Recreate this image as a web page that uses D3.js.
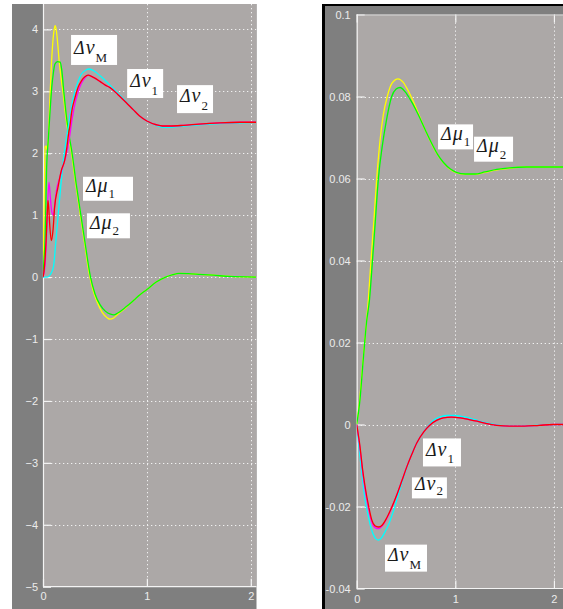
<!DOCTYPE html>
<html><head><meta charset="utf-8">
<script src="https://cdn.jsdelivr.net/npm/d3@7"></script>
<style>html,body{margin:0;padding:0;background:#fff;}svg{display:block;}</style>
</head><body>
<script>
// ---------- DATA ----------
const xTicks = [0, 1, 2];
const leftYTicks = [4, 3, 2, 1, 0, -1, -2, -3, -4, -5];
const rightYTicks = [0.1, 0.08, 0.06, 0.04, 0.02, 0, -0.02, -0.04];
const rightYTickLabels = ["0.1", "0.08", "0.06", "0.04", "0.02", "0", "-0.02", "-0.04"];

// Left chart  [t, value]
const leftMu1 = [[0,0],[0.006,0.7],[0.014,1.5],[0.02,2.1],[0.03,2.12],[0.04,2.05],[0.05,2.2],[0.065,2.8],[0.08,3.4],[0.095,3.8],[0.108,4.0],[0.117,4.06],[0.127,4.0],[0.14,3.8],[0.155,3.5],[0.175,3.2],[0.195,2.95],[0.215,2.65],[0.245,2.3],[0.275,2.0],[0.315,1.5],[0.355,1.05],[0.4,0.55],[0.445,0.05],[0.48,-0.2],[0.52,-0.4],[0.57,-0.57],[0.62,-0.66],[0.645,-0.68],[0.68,-0.66],[0.72,-0.6],[0.8,-0.49],[0.87,-0.38],[0.93,-0.29],[1.0,-0.2],[1.09,-0.08],[1.18,0.0],[1.25,0.04],[1.31,0.06],[1.4,0.055],[1.5,0.045],[1.64,0.03],[1.8,0.01],[2.05,0]];
const leftMu2 = [[0,0],[0.01,0.3],[0.02,0.6],[0.035,1.77],[0.05,2.2],[0.065,2.6],[0.084,3.06],[0.1,3.3],[0.115,3.44],[0.14,3.48],[0.165,3.47],[0.18,3.35],[0.2,3.0],[0.225,2.6],[0.25,2.3],[0.28,2.0],[0.32,1.5],[0.36,1.05],[0.405,0.55],[0.455,0.02],[0.5,-0.27],[0.55,-0.45],[0.6,-0.55],[0.65,-0.6],[0.68,-0.61],[0.72,-0.58],[0.8,-0.48],[0.87,-0.38],[0.93,-0.29],[1.0,-0.2],[1.09,-0.08],[1.18,0.0],[1.25,0.04],[1.31,0.06],[1.4,0.055],[1.5,0.045],[1.64,0.03],[1.8,0.01],[2.05,0]];
const leftNuM = [[0,0],[0.04,0.0],[0.07,0.04],[0.1,0.16],[0.125,0.6],[0.147,1.02],[0.17,1.45],[0.196,1.88],[0.22,2.18],[0.243,2.42],[0.27,2.72],[0.305,2.98],[0.37,3.28],[0.41,3.34],[0.445,3.36],[0.49,3.33],[0.55,3.25],[0.645,3.1],[0.72,2.97],[0.8,2.83],[0.87,2.7],[0.93,2.6],[1.0,2.52],[1.09,2.45],[1.15,2.42],[1.22,2.42],[1.35,2.44],[1.5,2.46],[1.7,2.48],[1.9,2.49],[2.05,2.5]];
const leftNu1 = [[0,0],[0.01,0.1],[0.02,0.3],[0.03,0.6],[0.04,1.0],[0.048,1.24],[0.056,1.1],[0.064,0.86],[0.08,0.59],[0.096,0.75],[0.112,1.13],[0.144,1.45],[0.176,1.72],[0.208,1.88],[0.23,2.1],[0.245,2.3],[0.26,2.45],[0.275,2.66],[0.305,2.88],[0.337,3.06],[0.37,3.17],[0.4,3.23],[0.435,3.26],[0.49,3.22],[0.548,3.16],[0.6,3.1],[0.645,3.06],[0.72,2.95],[0.8,2.82],[0.87,2.7],[0.93,2.6],[1.0,2.52],[1.09,2.46],[1.15,2.44],[1.22,2.44],[1.35,2.45],[1.5,2.47],[1.7,2.49],[1.9,2.5],[2.05,2.5]];
const leftNu2 = [[0,0],[0.02,0.2],[0.035,0.7],[0.045,1.2],[0.058,1.53],[0.07,1.3],[0.085,1.05],[0.1,1.0],[0.115,1.2],[0.13,1.4],[0.16,1.6],[0.19,1.78],[0.22,1.95],[0.25,2.2],[0.28,2.55],[0.31,2.82],[0.34,3.0],[0.37,3.13],[0.4,3.21],[0.435,3.26],[0.49,3.22],[0.548,3.16],[0.6,3.1],[0.645,3.06],[0.72,2.95],[0.8,2.82],[0.87,2.7],[0.93,2.6],[1.0,2.52],[1.09,2.46],[1.15,2.44],[1.22,2.44],[1.35,2.45],[1.5,2.47],[1.7,2.49],[1.9,2.5],[2.05,2.5]];

// Right chart [t, value]
const rightMu1 = [[0,0],[0.03,0.006],[0.06,0.0145],[0.09,0.0225],[0.118,0.0305],[0.145,0.04],[0.175,0.05],[0.203,0.06],[0.24,0.07],[0.27,0.0755],[0.31,0.08],[0.36,0.0833],[0.42,0.0843],[0.47,0.0835],[0.52,0.0815],[0.58,0.0785],[0.64,0.075],[0.7,0.0715],[0.76,0.0685],[0.82,0.0658],[0.88,0.0638],[0.95,0.0622],[1.01,0.0614],[1.1,0.061],[1.2,0.061],[1.3,0.0615],[1.42,0.0621],[1.55,0.0625],[1.72,0.0628],[2.1,0.0628]];
const rightMu2 = [[0,0],[0.033,0.006],[0.067,0.016],[0.1,0.025],[0.13,0.0305],[0.16,0.04],[0.19,0.05],[0.22,0.06],[0.26,0.068],[0.3,0.074],[0.355,0.08],[0.4,0.0818],[0.44,0.0822],[0.49,0.0812],[0.55,0.079],[0.62,0.0758],[0.7,0.0716],[0.76,0.0686],[0.82,0.0659],[0.88,0.0639],[0.95,0.0623],[1.01,0.0615],[1.1,0.0611],[1.2,0.0611],[1.3,0.0616],[1.42,0.0622],[1.55,0.0626],[1.72,0.0628],[2.1,0.0628]];
const rightNuM = [[0,0],[0.015,-0.0035],[0.033,-0.0077],[0.05,-0.0115],[0.067,-0.015],[0.09,-0.019],[0.118,-0.0224],[0.145,-0.0252],[0.168,-0.0268],[0.195,-0.0279],[0.219,-0.0282],[0.25,-0.0277],[0.287,-0.0262],[0.33,-0.024],[0.371,-0.0212],[0.42,-0.0173],[0.473,-0.013],[0.524,-0.0094],[0.574,-0.0062],[0.625,-0.0038],[0.675,-0.0019],[0.727,-0.0003],[0.777,0.001],[0.84,0.0018],[0.91,0.0022],[1.0,0.0022],[1.08,0.0019],[1.18,0.0013],[1.28,0.0006],[1.38,0.0001],[1.48,-0.0003],[1.6,-0.0004],[1.75,-0.0003],[1.9,-0.0001],[2.1,0]];
const rightNu1 = [[0,0],[0.033,-0.0053],[0.06,-0.011],[0.084,-0.015],[0.12,-0.0198],[0.152,-0.0232],[0.185,-0.0247],[0.22,-0.025],[0.26,-0.0245],[0.304,-0.0228],[0.35,-0.0205],[0.406,-0.0172],[0.457,-0.0138],[0.507,-0.0104],[0.56,-0.0072],[0.609,-0.0045],[0.68,-0.0018],[0.743,-0.0001],[0.81,0.001],[0.878,0.0016],[0.96,0.0018],[1.05,0.0016],[1.14,0.0012],[1.22,0.0008],[1.32,0.0002],[1.42,-0.0002],[1.55,-0.0004],[1.7,-0.0004],[1.85,-0.0002],[2.0,0],[2.1,0]];
const rightNu2 = [[0,0],[0.033,-0.0058],[0.06,-0.0115],[0.084,-0.0157],[0.12,-0.0205],[0.152,-0.0238],[0.19,-0.0252],[0.22,-0.0254],[0.26,-0.0247],[0.304,-0.023],[0.35,-0.0206],[0.406,-0.0172],[0.457,-0.0138],[0.507,-0.0104],[0.56,-0.0072],[0.609,-0.0045],[0.68,-0.0018],[0.743,-0.0001],[0.81,0.001],[0.878,0.0016],[0.96,0.0018],[1.05,0.0016],[1.14,0.0012],[1.22,0.0008],[1.32,0.0002],[1.42,-0.0002],[1.55,-0.0004],[1.7,-0.0004],[1.85,-0.0002],[2.0,0],[2.1,0]];

// Labels: [symbol, subscript, t, value] (box top-left anchored in data coords)
const leftLabels = [["ν","M",0.27,3.91,46,30],["ν","1",0.81,3.36,36,29],["ν","2",1.29,3.10,36,28],["μ","1",0.385,1.62,50,24],["μ","2",0.423,1.03,43,25]];
const rightLabels = [["μ","1",0.825,0.0732,35,25],["μ","2",1.19,0.0702,39,25],["ν","1",0.672,-0.0034,38,28],["ν","2",0.56,-0.0129,35,21],["ν","M",0.287,-0.0293,42,27]];

// ---------- DRAW ----------
const W = 563, H = 609;
const svg = d3.select("body").append("svg").attr("width", W).attr("height", H);
svg.append("rect").attr("width", W).attr("height", H).attr("fill", "#fff");

const C = {plot:"#aca8a7", frame:"#7f7f7f", grid:"#f0f0f0", tick:"#ececec"};
const colors = {mu1:"#ffff00", mu2:"#00ff00", nuM:"#00ffff", nu2:"#ff00ff", nu1:"#ff0000"};

function panel(cfg) {
  const g = svg.append("g");
  const x = d3.scaleLinear().domain(cfg.xDomain).range([cfg.x0, cfg.x1]);
  const y = d3.scaleLinear().domain(cfg.yDomain).range([cfg.y1, cfg.y0]);
  g.append("rect").attr("x", cfg.x0).attr("y", cfg.y0).attr("width", cfg.x1 - cfg.x0).attr("height", cfg.y1 - cfg.y0).attr("fill", C.plot);

  const clipId = "clip" + cfg.id;
  svg.append("clipPath").attr("id", clipId).append("rect")
    .attr("x", cfg.x0).attr("y", cfg.y0).attr("width", cfg.x1 - cfg.x0).attr("height", cfg.y1 - cfg.y0);

  // grid
  const grid = g.append("g").attr("stroke", C.grid).attr("stroke-width", 1).attr("stroke-dasharray", "1.3,2.7").attr("clip-path", `url(#${clipId})`);
  cfg.yTicks.filter(v => v > cfg.yDomain[0] && v < cfg.yDomain[1]).forEach(v => {
    grid.append("line").attr("x1", cfg.x0).attr("x2", cfg.x1).attr("y1", Math.round(y(v)) + 0.5).attr("y2", Math.round(y(v)) + 0.5);
  });
  xTicks.filter(v => v > 0).forEach(v => {
    grid.append("line").attr("y1", cfg.y0).attr("y2", cfg.y1).attr("x1", Math.round(x(v)) + 0.5).attr("x2", Math.round(x(v)) + 0.5);
  });

  // axes
  const fmtY = cfg.yLabels ? (d, i) => cfg.yLabels[i] : d3.format("d");
  const ya = g.append("g").attr("transform", `translate(${cfg.x0},0)`)
    .call(d3.axisLeft(y).tickValues(cfg.yTicks).tickFormat(fmtY).tickSizeInner(-8).tickSizeOuter(0).tickPadding(cfg.yPad));
  const xa = g.append("g").attr("transform", `translate(0,${cfg.y1})`)
    .call(d3.axisBottom(x).tickValues(xTicks).tickFormat(d3.format("d")).tickSizeInner(-8).tickSizeOuter(0).tickPadding(cfg.xPad));
  [ya, xa].forEach(a => {
    a.select(".domain").remove();
    a.selectAll("line").attr("stroke", "#f4f4f4").attr("stroke-width", 1.2);
    a.selectAll("text").attr("fill", C.tick).style("font-family", "'Liberation Sans', Arial, sans-serif").style("font-size", "11px");
  });
  if (cfg.boxTop) {
    const ta = g.append("g").attr("transform", `translate(0,${cfg.y0})`)
      .call(d3.axisTop(x).tickValues(xTicks).tickFormat("").tickSizeInner(-8).tickSizeOuter(0));
    ta.select(".domain").remove();
    ta.selectAll("line").attr("stroke", "#f4f4f4").attr("stroke-width", 1.2);
    g.append("line").attr("x1", cfg.x0).attr("x2", cfg.x1).attr("y1", cfg.y0 + 0.5).attr("y2", cfg.y0 + 0.5).attr("stroke", "#d8d8d8");
  }
  g.append("line").attr("x1", cfg.x0 + 0.5).attr("x2", cfg.x0 + 0.5).attr("y1", cfg.y0).attr("y2", cfg.y1).attr("stroke", "#f4f4f4").attr("stroke-width", 1.2);
  g.append("line").attr("x1", cfg.x0).attr("x2", cfg.x1).attr("y1", cfg.y1).attr("y2", cfg.y1).attr("stroke", "#f4f4f4").attr("stroke-width", 1.2);

  // lines
  const line = d3.line().x(d => x(d[0])).y(d => y(d[1])).curve(d3.curveMonotoneX);
  const lg = g.append("g").attr("clip-path", `url(#${clipId})`).attr("fill", "none").attr("stroke-width", 1.3);
  cfg.series.forEach(([data, col]) => lg.append("path").attr("d", line(data)).attr("stroke", col));

  // labels
  cfg.labels.forEach(([sym, sub, t, v, w, h]) => {
    const bx = x(t), by = y(v);
    g.append("rect").attr("x", bx).attr("y", by).attr("width", w).attr("height", h).attr("fill", "#fff");
    const tx = g.append("text").attr("x", bx + 3).attr("y", by + h * 0.62)
      .style("font-family", "'Liberation Serif', 'Times New Roman', serif").attr("fill", "#1a1a1a");
    tx.append("tspan").text("Δ").style("font-style", "italic").style("font-size", "18px");
    tx.append("tspan").text(sym).style("font-style", "italic").style("font-size", "20px").attr("dx", 1);
    tx.append("tspan").text(sub).style("font-size", "13px").attr("dx", 1).attr("y", by + h - 3);
  });
}

// Left panel frame
svg.append("rect").attr("x", 12).attr("y", 4).attr("width", 244.5).attr("height", 605).attr("fill", C.frame);
panel({
  id: "L", x0: 43, x1: 256.5, y0: 4, y1: 586.7,
  xDomain: [0, 2.055], yDomain: [-5, 4.41],
  yTicks: leftYTicks, yPad: 5, xPad: 5.5,
  series: [[leftMu1, colors.mu1], [leftMu2, colors.mu2], [leftNuM, colors.nuM], [leftNu2, colors.nu2], [leftNu1, colors.nu1]],
  labels: leftLabels
});

// Right panel frame
svg.append("rect").attr("x", 322).attr("y", 4).attr("width", 241).attr("height", 605).attr("fill", "#000");
svg.append("rect").attr("x", 325).attr("y", 6).attr("width", 238).attr("height", 603).attr("fill", C.frame);
panel({
  id: "R", x0: 356.7, x1: 563, y0: 14.5, y1: 588.5,
  xDomain: [0, 2.092], yDomain: [-0.04, 0.1],
  yTicks: rightYTicks, yLabels: rightYTickLabels, yPad: 6, xPad: 6.7, boxTop: true,
  series: [[rightMu1, colors.mu1], [rightMu2, colors.mu2], [rightNuM, colors.nuM], [rightNu2, colors.nu2], [rightNu1, colors.nu1]],
  labels: rightLabels
});
</script>
</body></html>
